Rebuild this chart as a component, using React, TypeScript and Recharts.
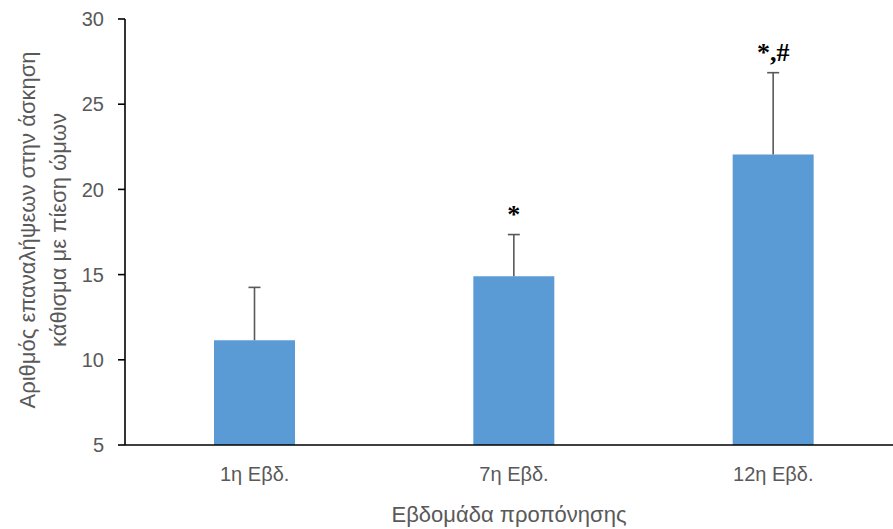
import React from "react";
import { BarChart, Bar, XAxis, YAxis, LabelList } from "recharts";

const weeks = ["1η Εβδ.", "7η Εβδ.", "12η Εβδ."];
const means = [11.15, 14.9, 22.05];
const errors = [3.1, 2.45, 4.8];
const marks = ["", "*", "*,#"];
const yTicks = [5, 10, 15, 20, 25, 30];

const yTitle = ["Αριθμός επαναλήψεων στην άσκηση", "κάθισμα με πίεση ώμων"];
const xTitle = "Εβδομάδα προπόνησης";

const data = weeks.map((week, i) => ({
  week,
  mean: means[i],
  err: errors[i],
  mark: marks[i]
}));

const GREY = "#595959";
const FONT = "'Liberation Sans', Arial, sans-serif";

// error whisker drawn from the stacked (invisible) err segment
const ErrorShape = (props: any) => {
  const { x, y, width, height } = props;
  const cx = x + width / 2;
  return (
    <g>
      <line x1={cx} x2={cx} y1={y + height} y2={y} stroke={GREY} strokeWidth={1.6} />
      <line x1={cx - 6} x2={cx + 6} y1={y} y2={y} stroke={GREY} strokeWidth={1.6} />
    </g>
  );
};

const MarkLabel = (props: any) => {
  const { x, y, width, value } = props;
  if (!value) return null;
  return (
    <text
      x={x + width / 2}
      y={y - 12}
      textAnchor="middle"
      fontFamily="'Liberation Serif', 'Times New Roman', serif"
      fontSize={26}
      fontWeight="bold"
      fill="#000"
    >
      {value}
    </text>
  );
};

const YTitle = (props: any) => {
  const vb = props.viewBox;
  const cy = vb.y + vb.height / 2 - 2;
  return (
    <g>
      <text x={27} y={cy} transform={`rotate(-90, 27, ${cy})`} textAnchor="middle" dominantBaseline="central" fontFamily={FONT} fontSize={22} fill={GREY}>
        {yTitle[0]}
      </text>
      <text x={58} y={cy} transform={`rotate(-90, 58, ${cy})`} textAnchor="middle" dominantBaseline="central" fontFamily={FONT} fontSize={22} fill={GREY}>
        {yTitle[1]}
      </text>
    </g>
  );
};

const XTitle = (props: any) => {
  const vb = props.viewBox;
  return (
    <text x={509} y={vb.y + 77} textAnchor="middle" fontFamily={FONT} fontSize={22} fill={GREY}>
      {xTitle}
    </text>
  );
};

export default function App() {
  return (
    <div style={{ position: "absolute", left: 0, top: 0, width: 893, height: 529, overflow: "hidden", background: "#fff" }}>
      <BarChart width={903} height={529} data={data} margin={{ top: 19, right: 0, left: 65, bottom: 0 }}>
        <XAxis
          dataKey="week"
          height={84}
          axisLine={{ stroke: "#000", strokeWidth: 1.6 }}
          tickLine={false}
          tickSize={0}
          tickMargin={22}
          tick={{ fontSize: 20, fill: GREY, fontFamily: FONT }}
          label={<XTitle />}
        />
        <YAxis
          domain={[5, 30]}
          ticks={yTicks}
          allowDataOverflow
          width={60}
          axisLine={{ stroke: "#000", strokeWidth: 1.6 }}
          tickLine={{ stroke: "#000", strokeWidth: 1.6 }}
          tickSize={7}
          tickMargin={14}
          tick={{ fontSize: 20, fill: GREY, fontFamily: FONT }}
          label={<YTitle />}
        />
        <Bar dataKey="mean" stackId="a" fill="#5B9BD5" barSize={81} isAnimationActive={false} />
        <Bar dataKey="err" stackId="a" barSize={81} shape={<ErrorShape />} isAnimationActive={false}>
          <LabelList dataKey="mark" content={<MarkLabel />} />
        </Bar>
      </BarChart>
    </div>
  );
}
